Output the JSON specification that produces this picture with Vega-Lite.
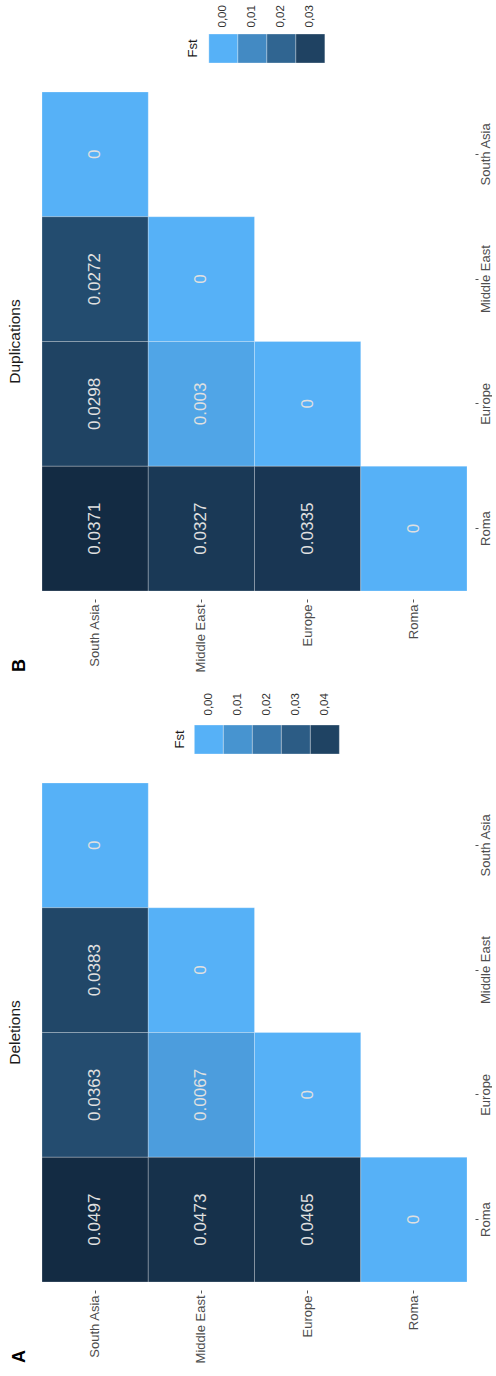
{
  "$schema": "https://vega.github.io/schema/vega-lite/v6.json",
  "background": "white",
  "padding": {"left": 8, "top": 4, "right": 0, "bottom": 0},
  "datasets": {
    "dup": [
      {"row": "South Asia", "col": "South Asia", "value": 0},
      {"row": "South Asia", "col": "Middle East", "value": 0.0272},
      {"row": "South Asia", "col": "Europe", "value": 0.0298},
      {"row": "South Asia", "col": "Roma", "value": 0.0371},
      {"row": "Middle East", "col": "Middle East", "value": 0},
      {"row": "Middle East", "col": "Europe", "value": 0.003},
      {"row": "Middle East", "col": "Roma", "value": 0.0327},
      {"row": "Europe", "col": "Europe", "value": 0},
      {"row": "Europe", "col": "Roma", "value": 0.0335},
      {"row": "Roma", "col": "Roma", "value": 0}
    ],
    "del": [
      {"row": "South Asia", "col": "South Asia", "value": 0},
      {"row": "South Asia", "col": "Middle East", "value": 0.0383},
      {"row": "South Asia", "col": "Europe", "value": 0.0363},
      {"row": "South Asia", "col": "Roma", "value": 0.0497},
      {"row": "Middle East", "col": "Middle East", "value": 0},
      {"row": "Middle East", "col": "Europe", "value": 0.0067},
      {"row": "Middle East", "col": "Roma", "value": 0.0473},
      {"row": "Europe", "col": "Europe", "value": 0},
      {"row": "Europe", "col": "Roma", "value": 0.0465},
      {"row": "Roma", "col": "Roma", "value": 0}
    ],
    "dupkey": [
      {"key": "Fst", "brk": 0},
      {"key": "Fst", "brk": 0.01},
      {"key": "Fst", "brk": 0.02},
      {"key": "Fst", "brk": 0.03}
    ],
    "delkey": [
      {"key": "Fst", "brk": 0},
      {"key": "Fst", "brk": 0.01},
      {"key": "Fst", "brk": 0.02},
      {"key": "Fst", "brk": 0.03},
      {"key": "Fst", "brk": 0.04}
    ]
  },
  "spacing": 20,
  "resolve": {"scale": {"color": "independent"}},
  "vconcat": [
    {
      "title": {"text": "B", "orient": "left", "anchor": "start", "offset": -21, "fontSize": 18, "fontWeight": "bold", "font": "Liberation Sans", "color": "#000000"},
      "spacing": 27,
      "center": true,
      "vconcat": [
        {
          "width": 116,
          "height": 29,
          "data": {"name": "dupkey"},
          "mark": {"type": "rect", "stroke": "#ffffff", "strokeWidth": 0.6, "strokeOpacity": 0.5},
          "encoding": {
            "x": {"field": "brk", "type": "ordinal", "scale": {"paddingInner": 0, "paddingOuter": 0},
              "axis": {"orient": "top", "title": null, "labelAngle": 270, "labelAlign": "left", "labelBaseline": "middle", "labelExpr": "replace(format(datum.value, '.2f'), '.', ',')", "ticks": false, "domain": false, "labelPadding": 7, "labelFontSize": 11.5, "labelFont": "Liberation Sans", "labelColor": "#333333"}},
            "y": {"field": "key", "type": "nominal", "scale": {"paddingInner": 0, "paddingOuter": 0},
              "axis": {"orient": "left", "title": null, "labelAngle": 270, "labelAlign": "center", "labelBaseline": "bottom", "ticks": false, "domain": false, "labelPadding": 9, "labelFontSize": 13, "labelFont": "Liberation Sans", "labelColor": "#1a1a1a"}},
            "color": {"field": "brk", "type": "quantitative", "scale": {"domain": [0, 0.0371], "range": ["#56B1F7", "#132B43"], "interpolate": "lab"}, "legend": null}
          }
        },
        {
          "width": 425,
          "height": 499,
          "data": {"name": "dup"},
          "title": {"text": "Duplications", "orient": "left", "anchor": "middle", "offset": 18, "fontSize": 15.5, "fontWeight": "normal", "font": "Liberation Sans", "color": "#1a1a1a"},
          "encoding": {
            "x": {"field": "row", "type": "nominal", "sort": ["South Asia", "Middle East", "Europe", "Roma"], "scale": {"paddingInner": 0, "paddingOuter": 0},
              "axis": {"orient": "bottom", "title": null, "labelAngle": 270, "labelAlign": "right", "labelBaseline": "middle", "labelFontSize": 13, "labelFont": "Liberation Sans", "labelColor": "#4d4d4d", "tickSize": 3, "tickColor": "#555555", "domain": false, "offset": 8, "labelPadding": 2}},
            "y": {"field": "col", "type": "nominal", "sort": ["South Asia", "Middle East", "Europe", "Roma"], "scale": {"paddingInner": 0, "paddingOuter": 0},
              "axis": {"orient": "right", "title": null, "labelAngle": 270, "labelAlign": "center", "labelBaseline": "top", "labelFontSize": 13, "labelFont": "Liberation Sans", "labelColor": "#4d4d4d", "tickSize": 3, "tickColor": "#555555", "domain": false, "offset": 8, "labelPadding": 1}}
          },
          "layer": [
            {
              "mark": {"type": "rect", "stroke": "#ffffff", "strokeWidth": 0.6, "strokeOpacity": 0.4},
              "encoding": {
                "color": {"field": "value", "type": "quantitative", "scale": {"domain": [0, 0.0371], "range": ["#56B1F7", "#132B43"], "interpolate": "lab"}, "legend": null}
              }
            },
            {
              "mark": {"type": "text", "angle": 270, "fontSize": 17, "font": "Liberation Sans", "color": "#e0e0e0"},
              "encoding": {"text": {"field": "value", "type": "nominal"}}
            }
          ]
        }
      ]
    },
    {
      "title": {"text": "A", "orient": "left", "anchor": "start", "offset": -21, "fontSize": 18, "fontWeight": "bold", "font": "Liberation Sans", "color": "#000000"},
      "spacing": 27,
      "center": true,
      "vconcat": [
        {
          "width": 145,
          "height": 29,
          "data": {"name": "delkey"},
          "mark": {"type": "rect", "stroke": "#ffffff", "strokeWidth": 0.6, "strokeOpacity": 0.5},
          "encoding": {
            "x": {"field": "brk", "type": "ordinal", "scale": {"paddingInner": 0, "paddingOuter": 0},
              "axis": {"orient": "top", "title": null, "labelAngle": 270, "labelAlign": "left", "labelBaseline": "middle", "labelExpr": "replace(format(datum.value, '.2f'), '.', ',')", "ticks": false, "domain": false, "labelPadding": 10, "labelFontSize": 11.5, "labelFont": "Liberation Sans", "labelColor": "#333333"}},
            "y": {"field": "key", "type": "nominal", "scale": {"paddingInner": 0, "paddingOuter": 0},
              "axis": {"orient": "left", "title": null, "labelAngle": 270, "labelAlign": "center", "labelBaseline": "bottom", "ticks": false, "domain": false, "labelPadding": 8, "labelFontSize": 13, "labelFont": "Liberation Sans", "labelColor": "#1a1a1a"}},
            "color": {"field": "brk", "type": "quantitative", "scale": {"domain": [0, 0.0497], "range": ["#56B1F7", "#132B43"], "interpolate": "lab"}, "legend": null}
          }
        },
        {
          "width": 425,
          "height": 499,
          "data": {"name": "del"},
          "title": {"text": "Deletions", "orient": "left", "anchor": "middle", "offset": 18, "fontSize": 15.5, "fontWeight": "normal", "font": "Liberation Sans", "color": "#1a1a1a"},
          "encoding": {
            "x": {"field": "row", "type": "nominal", "sort": ["South Asia", "Middle East", "Europe", "Roma"], "scale": {"paddingInner": 0, "paddingOuter": 0},
              "axis": {"orient": "bottom", "title": null, "labelAngle": 270, "labelAlign": "right", "labelBaseline": "middle", "labelFontSize": 13, "labelFont": "Liberation Sans", "labelColor": "#4d4d4d", "tickSize": 3, "tickColor": "#555555", "domain": false, "offset": 8, "labelPadding": 2}},
            "y": {"field": "col", "type": "nominal", "sort": ["South Asia", "Middle East", "Europe", "Roma"], "scale": {"paddingInner": 0, "paddingOuter": 0},
              "axis": {"orient": "right", "title": null, "labelAngle": 270, "labelAlign": "center", "labelBaseline": "top", "labelFontSize": 13, "labelFont": "Liberation Sans", "labelColor": "#4d4d4d", "tickSize": 3, "tickColor": "#555555", "domain": false, "offset": 8, "labelPadding": 1}}
          },
          "layer": [
            {
              "mark": {"type": "rect", "stroke": "#ffffff", "strokeWidth": 0.6, "strokeOpacity": 0.4},
              "encoding": {
                "color": {"field": "value", "type": "quantitative", "scale": {"domain": [0, 0.0497], "range": ["#56B1F7", "#132B43"], "interpolate": "lab"}, "legend": null}
              }
            },
            {
              "mark": {"type": "text", "angle": 270, "fontSize": 17, "font": "Liberation Sans", "color": "#e0e0e0"},
              "encoding": {"text": {"field": "value", "type": "nominal"}}
            }
          ]
        }
      ]
    }
  ],
  "config": {"view": {"stroke": null}}
}
